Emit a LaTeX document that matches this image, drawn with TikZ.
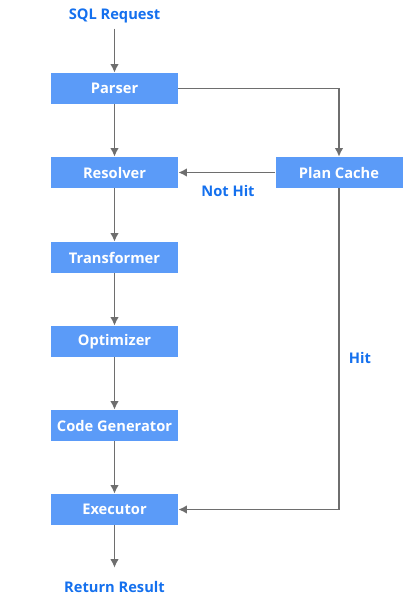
\documentclass[tikz,border=0pt]{standalone}
\usepackage{fontspec}
\setmainfont{Open Sans}
\usetikzlibrary{calc}
\usetikzlibrary{arrows.meta}
\definecolor{boxblue}{HTML}{5B9BF8}
\definecolor{textblue}{HTML}{1470EE}
\definecolor{linegray}{HTML}{6E6E6E}
\tikzset{
  stage/.style={fill=boxblue, text=white, font=\bfseries\fontsize{11}{12}\selectfont,
    minimum width=95.25pt, minimum height=23.25pt, inner sep=0pt},
  tag/.style={text=textblue, font=\bfseries\fontsize{11}{12}\selectfont, inner sep=0pt},
  flow/.style={draw=linegray, line width=1.45pt, -{Latex[length=6.5pt,width=6.5pt]}}
}
\begin{document}
\begin{tikzpicture}[x=0.75pt,y=-0.75pt]
\useasboundingbox (0,0) rectangle (411,601);
\node[tag] (sql) at (114.5,16) {SQL Request};
\node[stage] (parser) at (114.5,88.5) {Parser};
\node[stage] (resolver) at (114.5,172.5) {Resolver};
\node[stage] (transformer) at (114.5,257.5) {Transformer};
\node[stage] (optimizer) at (114.5,341.5) {Optimizer};
\node[stage] (codegen) at (114.5,425.5) {Code Generator};
\node[stage] (executor) at (114.5,509.5) {Executor};
\node[stage] (cache) at (339,172.5) {Plan Cache};
\node[tag] (result) at (114.5,587) {Return Result};
\node[tag] (nothit) at (228,191) {Not Hit};
\node[tag] (hit) at (360,358) {Hit};

\draw[flow] ($(sql.south)+(0,-4pt)$) -- (parser);
\draw[flow] (parser) -- (resolver);
\draw[flow] (resolver) -- (transformer);
\draw[flow] (transformer) -- (optimizer);
\draw[flow] (optimizer) -- (codegen);
\draw[flow] (codegen) -- (executor);
\draw[flow] (executor.south) -- ($(result.north)+(0,10pt)$);
\draw[flow] (parser.east) -| (cache.north);
\draw[flow] (cache.west) -- (resolver.east);
\draw[flow] (cache.south) |- (executor.east);
\end{tikzpicture}
\end{document}
